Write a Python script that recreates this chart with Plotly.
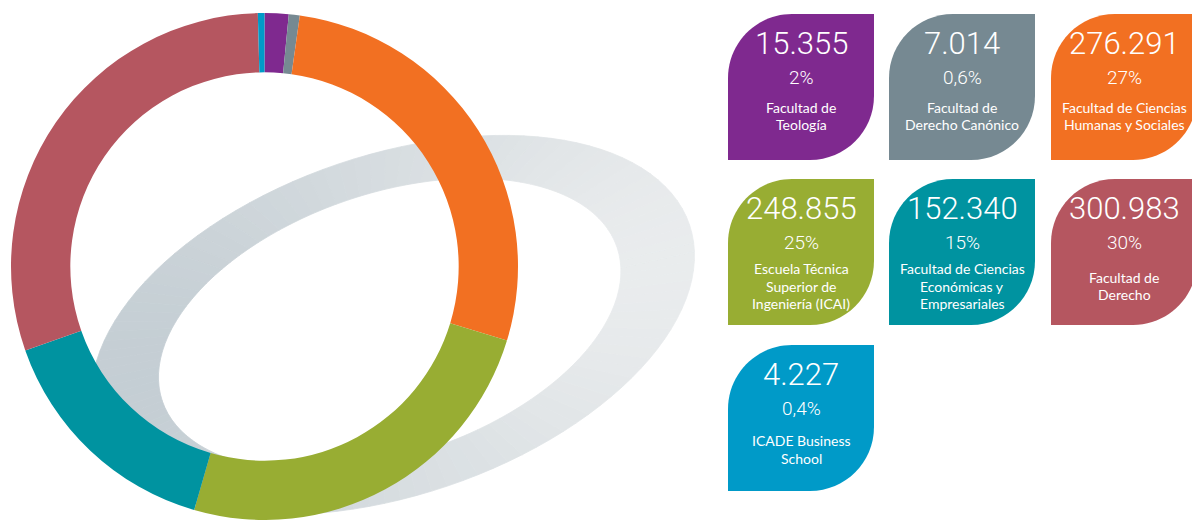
import numpy as np
import plotly.graph_objects as go

# ---- data (card order; the donut runs clockwise in this same order) ----
faculties = [
    "Facultad de<br>Teología",
    "Facultad de<br>Derecho Canónico",
    "Facultad de Ciencias<br>Humanas y Sociales",
    "Escuela Técnica<br>Superior de<br>Ingeniería (ICAI)",
    "Facultad de Ciencias<br>Económicas y<br>Empresariales",
    "Facultad de<br>Derecho",
    "ICADE Business<br>School",
]
students = [15355, 7014, 276291, 248855, 152340, 300983, 4227]
share_labels = ["2%", "0,6%", "27%", "25%", "15%", "30%", "0,4%"]
colors = ["#7f298f", "#768992", "#f27022", "#98ad33", "#0093a0", "#b55660", "#009ac8"]

W, H = 1192, 520


def px(x):
    return x / W


def py(y):
    return 1 - y / H


fig = go.Figure()

fig.add_trace(go.Pie(
    values=students,
    labels=[f.replace("<br>", " ") for f in faculties],
    sort=False,
    direction="clockwise",
    rotation=0,
    hole=0.766,
    marker=dict(colors=colors, line=dict(width=0)),
    textinfo="none",
    hoverinfo="label+value+percent",
    showlegend=False,
    domain=dict(x=[px(11), px(518)], y=[0, py(13)]),
))

shapes = []

# ---- decorative tilted grey ring behind the donut (gradient via segments) ----
def ell(cx, cy, a, b, th, t):
    c, s = np.cos(th), np.sin(th)
    X = a * np.cos(t) * c - b * np.sin(t) * s
    Y = a * np.cos(t) * s + b * np.sin(t) * c
    return cx + X, cy - Y


N = 120
t = np.linspace(0, 2 * np.pi, N + 1)
th = np.radians(18.65)
ox, oy = ell(393, 325, 313, 170, th, t)
ix, iy = ell(389.7, 324.2, 240, 131, th, t)
c0 = np.array([0xc2, 0xcc, 0xd2])
c1 = np.array([0xec, 0xee, 0xef])
for k in range(N):
    xs = [ox[k], ox[k + 1], ix[k + 1], ix[k]]
    ys = [oy[k], oy[k + 1], iy[k + 1], iy[k]]
    f = float(np.clip((np.mean(xs) - 90) / (700 - 90), 0, 1))
    col = c0 + (c1 - c0) * f
    cs = "rgb(%d,%d,%d)" % tuple(int(round(v)) for v in col)
    path = "M " + " L ".join(f"{px(x):.5f},{py(y):.5f}" for x, y in zip(xs, ys)) + " Z"
    shapes.append(dict(type="path", xref="paper", yref="paper", path=path,
                       fillcolor=cs, line=dict(color=cs, width=0.8), layer="below"))

# ---- leaf-shaped cards ----
col_left = [728, 889, 1051]
row_top = [14, 179, 345]
label_mid = [101, 106, 103.5]
line_gap = 17.5
size = 146
r = 64
kk = 0.5523

annotations = []
for i, (name, val, pct, colr) in enumerate(zip(faculties, students, share_labels, colors)):
    L = col_left[i % 3]
    T = row_top[i // 3]
    R = L + size
    B = T + size
    pts = [
        ("M", [(L, B)]),
        ("L", [(L, T + r)]),
        ("C", [(L, T + r - kk * r), (L + r - kk * r, T), (L + r, T)]),
        ("L", [(R, T)]),
        ("L", [(R, B - r)]),
        ("C", [(R, B - r + kk * r), (R - r + kk * r, B), (R - r, B)]),
        ("L", [(L, B)]),
    ]
    path = " ".join(cmd + " " + " ".join(f"{px(x):.5f},{py(y):.5f}" for x, y in p) for cmd, p in pts) + " Z"
    shapes.append(dict(type="path", xref="paper", yref="paper", path=path,
                       fillcolor=colr, line=dict(width=0), layer="above"))
    cx = (L + R) / 2
    annotations.append(dict(x=px(cx), y=py(T + 29.5), xref="paper", yref="paper",
                            text=f"{val:,}".replace(",", "."), showarrow=False,
                            xanchor="center", yanchor="middle",
                            font=dict(family="Roboto", size=31, color="white", weight=300)))
    annotations.append(dict(x=px(cx), y=py(T + 63), xref="paper", yref="paper",
                            text=pct, showarrow=False, xanchor="center", yanchor="middle",
                            font=dict(family="Roboto", size=19, color="white", weight=300)))
    lines = name.split("<br>")
    mid = T + label_mid[i // 3]
    for j, ln in enumerate(lines):
        yl = mid + (j - (len(lines) - 1) / 2) * line_gap
        annotations.append(dict(x=px(cx), y=py(yl + 1), xref="paper", yref="paper",
                                text=ln, showarrow=False, xanchor="center", yanchor="middle",
                                font=dict(family="Lato", size=14, color="white")))

fig.update_layout(
    width=W, height=H,
    margin=dict(l=0, r=0, t=0, b=0),
    paper_bgcolor="white", plot_bgcolor="white",
    shapes=shapes, annotations=annotations,
    showlegend=False,
)

fig.write_html("out.html", config={"displayModeBar": False},
               post_script="document.body.style.margin='0';document.body.style.overflow='hidden';")
